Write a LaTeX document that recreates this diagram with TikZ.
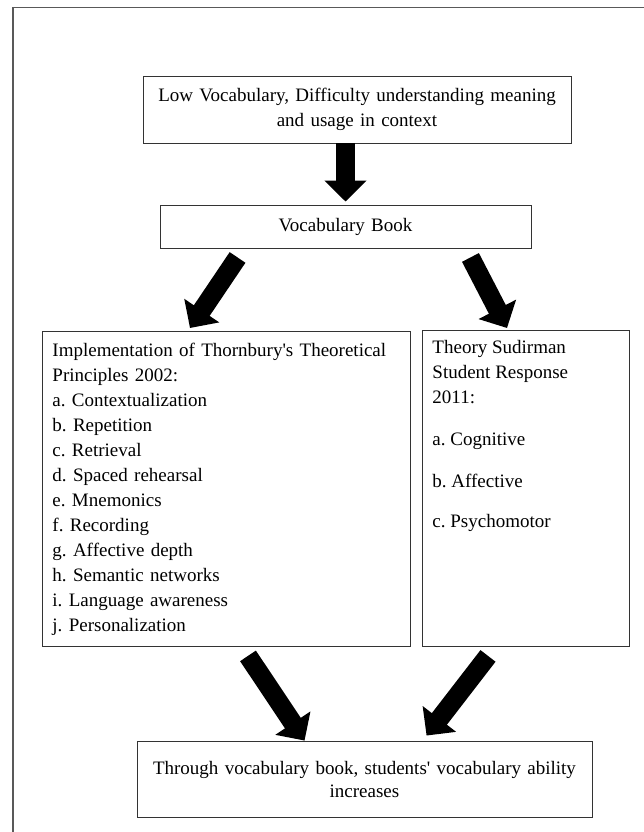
\documentclass[tikz,border=0pt]{standalone}
\usepackage{fontspec}
\setmainfont{Liberation Serif}
\usetikzlibrary{arrows.meta}

\tikzset{
    box/.style={draw=black!80, line width=0.9pt, inner sep=10pt, font=\fontsize{19}{25}\selectfont\frenchspacing},
    fatarrow/.style={line width=19pt, -{Triangle[width=41pt, length=21pt]}},
}

\begin{document}
\begin{tikzpicture}[x=1pt, y=-1pt]
        \useasboundingbox (0,0) rectangle (644,832);
        \draw[black!65, line width=1.5pt] (644,7.5) -- (13,7.5) -- (13,832);

        \node[box, minimum width=428pt, minimum height=67pt, text width=408pt, align=center] (problem) at (357,109.5) {Low Vocabulary, Difficulty understanding meaning\\ and usage in context};
        \node[box, minimum width=371pt, minimum height=43pt, text width=351pt, align=center] (book) at (345.5,226.5) {Vocabulary Book};
        \node[box, anchor=north west, minimum height=315pt, text width=348pt, align=left] (impl) at (42,331) {Implementation of Thornbury\textquotesingle s Theoretical\\ Principles 2002:\\ a. Contextualization\\ b. Repetition\\ c. Retrieval\\ d. Spaced rehearsal\\ e. Mnemonics\\ f. Recording\\ g. Affective depth\\ h. Semantic networks\\ i. Language awareness\\ j. Personalization};
        \node[box, anchor=north west] (theory) at (422,330) {\parbox[c][296pt][t]{187pt}{\raggedright Theory Sudirman\\ Student Response\\ 2011:\\[17pt] a. Cognitive\\[17pt] b. Affective\\[15pt] c. Psychomotor}};
        \node[box, minimum width=455pt, minimum height=76pt, text width=435pt, align=center] (result) at (364.5,779) {Through vocabulary book, students\textquotesingle\ vocabulary ability\\[-2pt] increases\\[6pt]};

        \draw[fatarrow, shorten >=3pt] (problem.south -| book.north) -- (book.north);
        \draw[fatarrow] ([xshift=78pt, yshift=-9pt]book.south west) -- ([xshift=148pt, yshift=3pt]impl.north west);
        \draw[fatarrow] ([xshift=-61pt, yshift=-9pt]book.south east) -- ([xshift=85pt, yshift=2pt]theory.north west);
        \draw[fatarrow] ([xshift=206pt, yshift=-9pt]impl.south west) -- ([xshift=168pt]result.north west);
        \draw[fatarrow] ([xshift=66pt, yshift=-9pt]theory.south west) -- ([xshift=290pt, yshift=5pt]result.north west);
    \end{tikzpicture}
\end{document}
